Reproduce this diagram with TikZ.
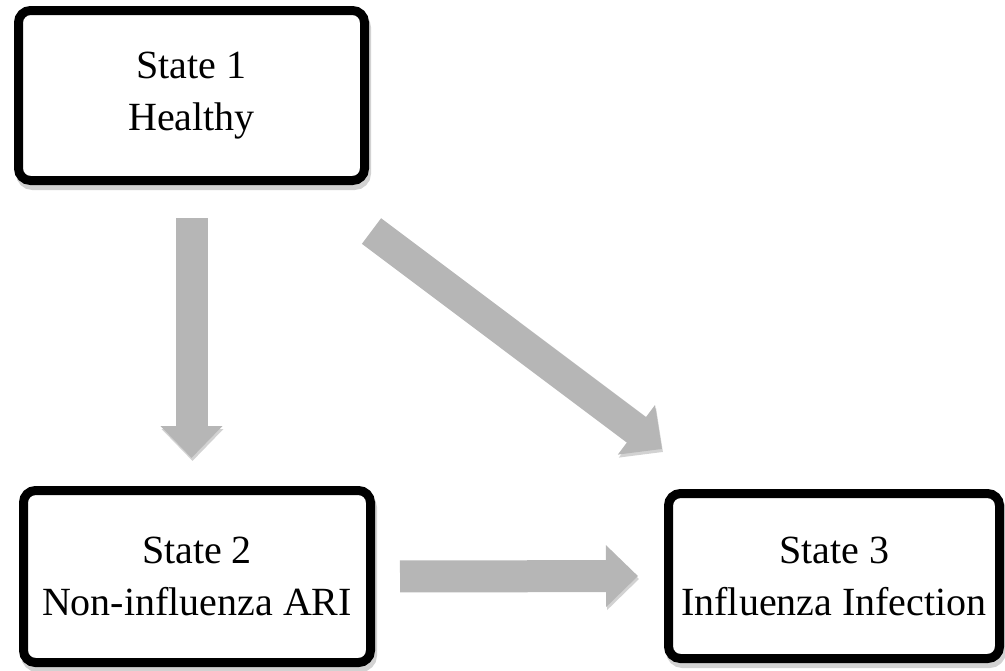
\documentclass[tikz,border=0pt]{standalone}
\usepackage{fontspec}
\setmainfont{Liberation Serif}
\usetikzlibrary{arrows.meta,positioning}
\definecolor{arrowgray}{RGB}{182,182,182}
\definecolor{shadegray}{RGB}{210,210,210}

\begin{document}
\begin{tikzpicture}[x=0.5pt, y=-0.5pt,
      state/.style={draw, line width=4.5pt, rounded corners=6pt, fill=white, align=center,
                    font=\fontsize{20}{26}\selectfont,
                    preaction={draw=shadegray, fill=shadegray, transform canvas={shift={(1pt,-2.5pt)}}}},
      flow/.style={line width=16pt, draw=arrowgray, -{Triangle[length=16pt, width=30pt]},
                   preaction={draw=shadegray, transform canvas={shift={(0.5pt,-1.5pt)}}}}]
      \useasboundingbox (0, 0) rectangle (1005, 670);
      \node [state, minimum width=173pt, minimum height=85pt] (s1) at (191.5, 95.5) {State 1\\Healthy};
      \node [state, minimum width=173.5pt, minimum height=86pt] (s2) at (197, 576.5) {State 2\\Non-influenza ARI};
      \node [state, minimum width=165.5pt, minimum height=82.5pt] (s3) at (834, 576) {State 3\\Influenza Infection};
      \coordinate (tail) at (371.5, 231);
      \coordinate (tip) at (662, 449);
      \draw [flow, shorten <=16.5pt, shorten >=14pt] (s1.south) -- (s1.south |- s2.north);
      \draw [flow] (tail) -- (tip);
      \draw [flow, shorten <=12.5pt, shorten >=13pt] (s2.east) -- (s3.west);
\end{tikzpicture}
\end{document}
